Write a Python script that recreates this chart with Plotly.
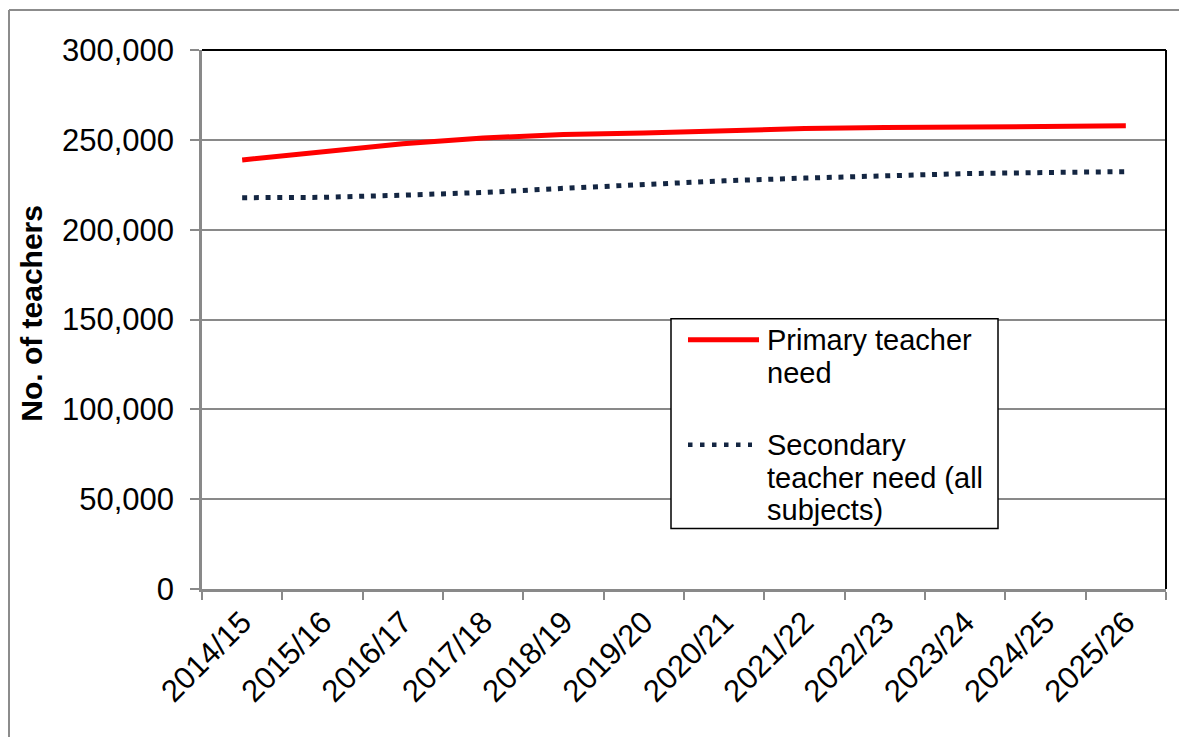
import plotly.graph_objects as go

# Teacher need projections by academic year
years = ["2014/15", "2015/16", "2016/17", "2017/18", "2018/19", "2019/20",
         "2020/21", "2021/22", "2022/23", "2023/24", "2024/25", "2025/26"]
primary_need = [238800, 243100, 247800, 251000, 253000, 253800,
                255300, 256300, 256800, 257000, 257600, 257800]
secondary_need = [217800, 218000, 219200, 220700, 223000, 225300,
                  227200, 228700, 230000, 231200, 231800, 232300]
y_ticks = [0, 50000, 100000, 150000, 200000, 250000, 300000]

W, H = 1179, 737
L, R, T, B = 202, 13, 50, 147.5
PW, PH = W - L - R, H - T - B

FONT = "Liberation Sans, Arial, sans-serif"
GRID = "#898989"
RED = "#ff0000"
NAVY = "#142642"


def px(x):
    return (x - L) / PW


def py(y):
    return (H - B - y) / PH


fig = go.Figure()
fig.add_trace(go.Scatter(x=years, y=primary_need, mode="lines",
                         name="Primary teacher need",
                         line=dict(color=RED, width=5), showlegend=False))
fig.add_trace(go.Scatter(x=years, y=secondary_need, mode="lines",
                         name="Secondary teacher need (all subjects)",
                         line=dict(color=NAVY, width=5, dash="5px,6.7px"),
                         showlegend=False))

shapes = [
    # plot frame: black top and right edges
    dict(type="line", xref="paper", yref="paper", x0=0, x1=1, y0=1, y1=1,
         line=dict(color="black", width=2)),
    dict(type="line", xref="paper", yref="paper", x0=1, x1=1, y0=0, y1=1,
         line=dict(color="black", width=2)),
    # chart area outline
    dict(type="line", xref="paper", yref="paper", x0=px(9), x1=px(1185),
         y0=py(10), y1=py(10), line=dict(color="#8c8c8c", width=2)),
    dict(type="line", xref="paper", yref="paper", x0=px(9), x1=px(9),
         y0=py(10), y1=py(745), line=dict(color="#8c8c8c", width=2)),
    # legend box and samples
    dict(type="rect", xref="paper", yref="paper", x0=px(671), x1=px(998),
         y0=py(529), y1=py(319), fillcolor="white",
         line=dict(color="black", width=1.5)),
    dict(type="line", xref="paper", yref="paper", x0=px(688), x1=px(759),
         y0=py(340), y1=py(340), line=dict(color=RED, width=5)),
    dict(type="line", xref="paper", yref="paper", x0=px(688), x1=px(752),
         y0=py(445), y1=py(445),
         line=dict(color=NAVY, width=4.5, dash="4.5px,7.5px")),
]

legend_lines = [("Primary teacher", 340), ("need", 373),
                ("Secondary", 445), ("teacher need (all", 478),
                ("subjects)", 510)]
annotations = [
    dict(text=t, xref="paper", yref="paper", x=px(765), y=py(yy),
         xanchor="left", yanchor="middle", showarrow=False,
         font=dict(family=FONT, size=29, color="black"))
    for t, yy in legend_lines
]
annotations.append(dict(text="<b>No. of teachers</b>", xref="paper", yref="paper",
                        x=px(32), y=py(314), textangle=-90, showarrow=False,
                        xanchor="center", yanchor="middle",
                        font=dict(family=FONT, size=30, color="black")))

fig.update_layout(
    width=W, height=H,
    margin=dict(l=L, r=R, t=T, b=B, autoexpand=False),
    paper_bgcolor="white", plot_bgcolor="white",
    font=dict(family=FONT, color="black"),
    shapes=shapes, annotations=annotations,
    xaxis=dict(type="category", range=[-0.5, 11.5], tickson="boundaries",
               ticks="outside", ticklen=8, tickwidth=2, tickcolor=GRID,
               showline=True, linecolor=GRID, linewidth=2.5,
               showgrid=False, tickangle=-45,
               tickfont=dict(family=FONT, size=31, color="black"),
               automargin=False),
    yaxis=dict(range=[0, 300000], tickvals=y_ticks, tickformat=",d",
               ticks="outside", ticklen=9, tickwidth=2, tickcolor=GRID,
               showline=True, linecolor=GRID, linewidth=2.5,
               showgrid=True, gridcolor=GRID, gridwidth=1.5,
               zeroline=False, ticklabelstandoff=10,
               tickfont=dict(family=FONT, size=31, color="black"),
               automargin=False),
)

fig.write_html("out.html")
